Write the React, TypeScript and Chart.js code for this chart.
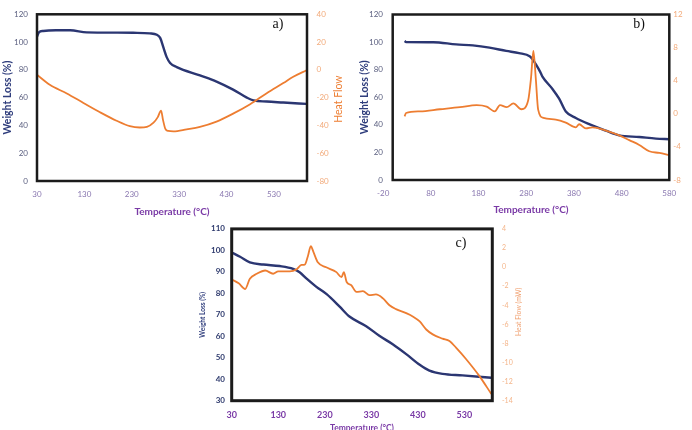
import { useEffect, useRef } from "react";
import { Chart, registerables } from "chart.js";

Chart.register(...registerables);

// ---- a) ----
const aWeightTemp = [30, 34, 43, 70, 100, 135, 200, 233, 268, 283, 290, 297, 304, 311, 325, 374, 409, 444, 473, 487, 515, 550, 599];
const aWeightPct = [104, 107, 108, 108.5, 108.5, 107, 106.8, 106.7, 106.3, 105.3, 103, 96, 89, 85, 82, 76, 71.6, 65.8, 60, 58, 57.2, 56.5, 55.5];
const aHeatTemp = [30, 57, 93, 128, 163, 198, 226, 247, 262, 276, 285, 292, 296, 301, 307, 318, 346, 374, 409, 444, 480, 515, 550, 571, 599];
const aHeatFlow = [-3.5, -10.7, -17, -23.8, -30.5, -36.6, -40.5, -41.5, -41, -38, -34, -29.3, -36, -42.5, -44, -44.3, -42.8, -41, -37.2, -31.5, -24.7, -16.8, -9.5, -5, -0.3];
const aTempTicks = [30, 130, 230, 330, 430, 530];

// ---- b) ----
const bWeightTemp = [25, 28, 85, 133, 168, 203, 238, 265, 288, 295, 300, 309, 314, 335, 349, 363, 384, 412, 447, 475, 517, 552, 580];
const bWeightPct = [100.8, 100, 99.9, 98.3, 97.6, 96, 93.6, 92, 89.5, 86.7, 84, 78.6, 75, 66, 59, 49.7, 45, 40.5, 35.8, 32.4, 31.2, 30, 29.6];
const bHeatTemp = [25, 28, 57, 99, 141, 176, 197, 214, 225, 239, 253, 270, 284, 290, 295, 300, 305, 316, 342, 363, 384, 391, 405, 419, 447, 475, 496, 517, 538, 559, 580];
const bHeatFlow = [-0.3, 0.1, 0.3, 0.55, 0.8, 1.05, 0.87, 0.3, 1.05, 0.8, 1.25, 0.55, 1.6, 4.3, 7.6, 4.3, 0.5, -0.5, -0.7, -1.06, -1.64, -1.26, -1.76, -1.64, -2.02, -2.6, -3.18, -3.76, -4.53, -4.73, -5];
const bTempTicks = [-20, 80, 180, 280, 380, 480, 580];

// ---- c) ----
const cWeightTemp = [30, 48, 69, 98, 133, 162, 176, 191, 212, 234, 262, 283, 319, 348, 376, 405, 434, 455, 483, 526, 588];
const cWeightPct = [99, 97, 94.4, 93.4, 92.7, 91.4, 89.8, 86.8, 83, 79.6, 73.8, 69.2, 64.7, 60.1, 56.3, 51.7, 46.7, 44, 42.5, 41.8, 40.7];
const cHeatTemp = [30, 45, 59, 69, 84, 102, 119, 130, 155, 169, 180, 187, 194, 200, 206, 215, 233, 255, 266, 271, 277, 287, 298, 312, 326, 340, 355, 369, 383, 405, 419, 434, 448, 462, 483, 498, 512, 533, 562, 588];
const cHeatFlow = [-1.3, -1.7, -2.3, -1.22, -0.7, -0.36, -0.7, -0.46, -0.46, -0.26, 0.22, 0.25, 1.19, 2.2, 1.53, 0.5, -0.02, -0.53, -1.05, -0.53, -1.56, -1.9, -2.6, -2.52, -2.94, -2.87, -3.28, -4.0, -4.4, -4.83, -5.17, -5.7, -6.54, -7.05, -7.5, -7.75, -8.44, -9.6, -11.4, -13.3];
const cTempTicks = [30, 130, 230, 330, 430, 530];

const NAVY = "#2b3672";
const ORANGE = "#ed7d31";
const FONT = "Lato, 'Open Sans', sans-serif";

const pts = (xs: number[], ys: number[]) => xs.map((x, i) => ({ x, y: ys[i] }));

// Black box around the plot area, the optional right-hand title and the panel tag
const panelDecor = {
  id: "panelDecor",
  afterDraw(chart: any, _args: any, o: any) {
    const { ctx, chartArea: a } = chart;
    ctx.save();
    ctx.strokeStyle = o.frameColor;
    ctx.lineWidth = o.frameWidth;
    ctx.strokeRect(a.left, a.top, a.right - a.left, a.bottom - a.top);
    if (o.sideTitle) {
      ctx.translate(o.sideTitle.x, (a.top + a.bottom) / 2 + (o.sideTitle.dy || 0));
      ctx.rotate(-Math.PI / 2);
      ctx.font = o.sideTitle.font;
      ctx.fillStyle = o.sideTitle.color;
      ctx.textAlign = "center";
      ctx.textBaseline = "middle";
      ctx.fillText(o.sideTitle.text, 0, 0);
      ctx.setTransform(1, 0, 0, 1, 0, 0);
    }
    if (o.tag) {
      ctx.font = "14px 'Liberation Serif', 'Times New Roman', serif";
      ctx.fillStyle = "#111";
      ctx.textAlign = "center";
      ctx.textBaseline = "middle";
      ctx.fillText(o.tag.text, o.tag.x, o.tag.y);
    }
    ctx.restore();
  },
};

type Panel = any;

const PANELS: Panel[] = [
  {
    box: { left: 0, top: 0, width: 346, height: 222 },
    area: { left: 37, top: 9, right: 307, bottom: 181 },
    weight: pts(aWeightTemp, aWeightPct),
    heat: pts(aHeatTemp, aHeatFlow),
    x: { min: 30, max: 600, ticks: aTempTicks, pad: 9, font: { size: 8 }, color: "#8a78b0", titleFont: { size: 10, weight: "bold" }, titlePad: 4.3 },
    y: { min: 0, max: 120, step: 20, pad: 9, font: { size: 8 }, color: "#5c6080", titleFont: { size: 10.5, weight: "bold" }, titlePad: 1 },
    y1: { min: -80, max: 40, step: 20, pad: 9.5, font: { size: 8 }, color: "#f2aa7a" },
    sideTitle: { text: "Heat Flow", x: 339, dy: 1.5, font: `10.5px ${FONT}`, color: ORANGE },
    tag: { text: "a)", x: 278, y: 24 },
    frameWidth: 2.5,
  },
  {
    box: { left: 346, top: 0, width: 346, height: 222 },
    area: { left: 46.7, top: 7, right: 323.3, bottom: 180 },
    weight: pts(bWeightTemp, bWeightPct),
    heat: pts(bHeatTemp, bHeatFlow),
    x: { min: 0, max: 580, ticks: bTempTicks, pad: 8.5, font: { size: 8 }, color: "#8a78b0", titleFont: { size: 10, weight: "bold" }, titlePad: 6 },
    y: { min: 0, max: 120, step: 20, pad: 9.7, font: { size: 8 }, color: "#5c6080", titleFont: { size: 10.5, weight: "bold" }, titlePad: 12 },
    y1: { min: -8, max: 12, step: 4, pad: 4, font: { size: 8 }, color: "#f2aa7a" },
    sideTitle: null,
    tag: { text: "b)", x: 293, y: 24 },
    frameWidth: 2.5,
  },
  {
    box: { left: 180, top: 215, width: 350, height: 225 },
    area: { left: 51.7, top: 11, right: 312.3, bottom: 185.7 },
    weight: pts(cWeightTemp, cWeightPct),
    heat: pts(cHeatTemp, cHeatFlow),
    x: { min: 30, max: 590, ticks: cTempTicks, pad: 8.9, font: { size: 9, weight: "bold" }, color: "#7a3aa6", titleFont: { size: 8.5, weight: "bold" }, titlePad: 6.9 },
    y: { min: 30, max: 110, step: 10, pad: 6.7, font: { size: 8, weight: "bold" }, color: "#2f3b6e", titleFont: { size: 6.5, weight: "bold" }, titlePad: 19.4 },
    y1: { min: -14, max: 4, step: 2, pad: 9.7, font: { size: 7 }, color: "#f4b58a" },
    sideTitle: { text: "Heat Flow (mW)", x: 339.3, dy: -3, font: `6.8px ${FONT}`, color: "#f0a070" },
    tag: { text: "c)", x: 281, y: 28 },
    frameWidth: 3,
  },
];

function buildConfig(p: Panel): any {
  const W = p.box.width;
  const H = p.box.height;
  return {
    type: "line",
    data: {
      datasets: [
        {
          label: "Heat Flow",
          data: p.heat,
          yAxisID: "y1",
          borderColor: ORANGE,
          borderWidth: 1.8,
          pointRadius: 0,
          cubicInterpolationMode: "monotone",
          fill: false,
        },
        {
          label: "Weight Loss (%)",
          data: p.weight,
          yAxisID: "y",
          borderColor: NAVY,
          borderWidth: 2.4,
          pointRadius: 0,
          cubicInterpolationMode: "monotone",
          fill: false,
        },
      ],
    },
    options: {
      animation: false,
      responsive: false,
      events: [],
      layout: { padding: { top: p.area.top, left: 0, right: 0, bottom: 0 } },
      plugins: {
        legend: { display: false },
        tooltip: { enabled: false },
        panelDecor: { frameColor: "#1b1b1b", frameWidth: p.frameWidth, sideTitle: p.sideTitle, tag: p.tag },
      },
      scales: {
        x: {
          type: "linear",
          min: p.x.min,
          max: p.x.max,
          afterBuildTicks: (s: any) => {
            s.ticks = p.x.ticks.map((v: number) => ({ value: v }));
          },
          afterFit: (s: any) => {
            s.height = H - p.area.bottom;
          },
          grid: { display: false, drawTicks: false },
          border: { display: false },
          ticks: { autoSkip: false, maxRotation: 0, padding: p.x.pad, color: p.x.color, font: { family: FONT, ...p.x.font } },
          title: {
            display: true,
            text: "Temperature (°C)",
            color: "#7a3aa6",
            font: { family: FONT, ...p.x.titleFont },
            padding: { top: 0, bottom: p.x.titlePad },
          },
        },
        y: {
          position: "left",
          min: p.y.min,
          max: p.y.max,
          afterFit: (s: any) => {
            s.width = p.area.left;
          },
          grid: { display: false, drawTicks: false },
          border: { display: false },
          ticks: { stepSize: p.y.step, padding: p.y.pad, color: p.y.color, font: { family: FONT, ...p.y.font } },
          title: {
            display: true,
            text: "Weight Loss (%)",
            color: "#2f3d7c",
            font: { family: FONT, ...p.y.titleFont },
            padding: { top: p.y.titlePad, bottom: 0 },
          },
        },
        y1: {
          position: "right",
          min: p.y1.min,
          max: p.y1.max,
          afterFit: (s: any) => {
            s.width = W - p.area.right;
          },
          grid: { display: false, drawTicks: false },
          border: { display: false },
          ticks: { stepSize: p.y1.step, padding: p.y1.pad, color: p.y1.color, font: { family: FONT, ...p.y1.font } },
        },
      },
    },
    plugins: [panelDecor],
  };
}

export default function App() {
  const canvases = useRef<(HTMLCanvasElement | null)[]>([]);

  useEffect(() => {
    const charts = PANELS.map((p, i) => new Chart(canvases.current[i] as HTMLCanvasElement, buildConfig(p)));
    return () => charts.forEach((c) => c.destroy());
  }, []);

  return (
    <div style={{ position: "fixed", left: 0, top: 0, width: 692, height: 430, overflow: "hidden", background: "#fff" }}>
      {PANELS.map((p, i) => (
        <canvas
          key={i}
          ref={(el) => {
            canvases.current[i] = el;
          }}
          width={p.box.width}
          height={p.box.height}
          style={{ position: "absolute", left: p.box.left, top: p.box.top, width: p.box.width, height: p.box.height }}
        />
      ))}
    </div>
  );
}
